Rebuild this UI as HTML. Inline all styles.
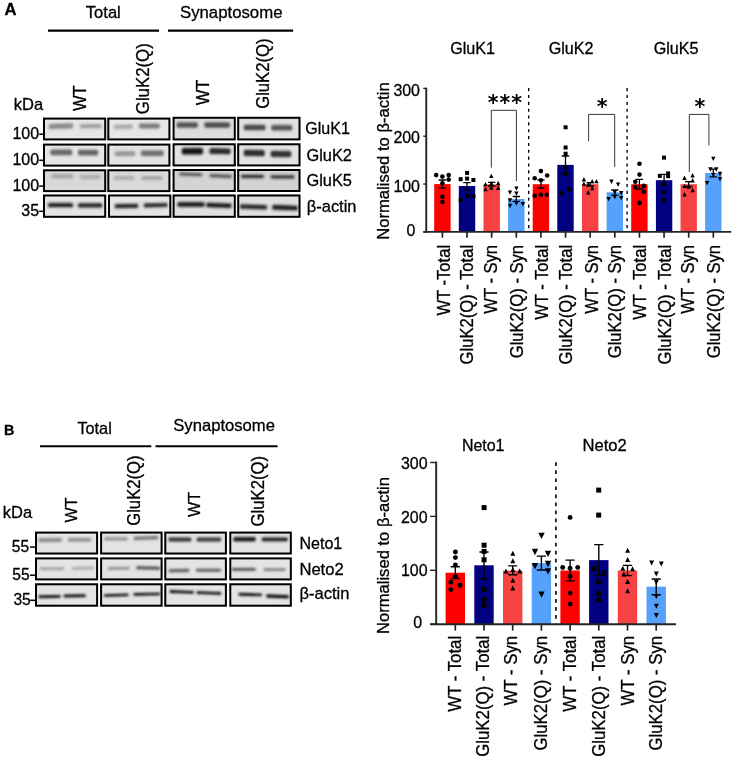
<!DOCTYPE html>
<html lang="en"><head><meta charset="utf-8"><title>Figure</title>
<style>html,body{margin:0;padding:0;background:#fff}svg{display:block}text{font-family:'Liberation Sans', Arial, Helvetica, sans-serif;fill:#000;stroke:#000;stroke-width:0.3px}</style>
</head><body>
<svg width="736" height="757" viewBox="0 0 736 757">
<defs><filter id="bl" x="-20%" y="-50%" width="140%" height="200%"><feGaussianBlur stdDeviation="1.25"/></filter><filter id="bl2" x="-20%" y="-50%" width="140%" height="200%"><feGaussianBlur stdDeviation="0.9"/></filter></defs>
<rect width="736" height="757" fill="#fff"/>
<text transform="translate(4.5 15)" font-size="15.59" font-weight="bold" textLength="12.0" lengthAdjust="spacingAndGlyphs" stroke-width="0.5">A</text>
<text transform="translate(103.3 18.3)" font-size="17.16" text-anchor="middle" textLength="35" lengthAdjust="spacingAndGlyphs">Total</text>
<text transform="translate(231.2 18.3)" font-size="17.16" text-anchor="middle" textLength="102.5" lengthAdjust="spacingAndGlyphs">Synaptosome</text>
<line x1="48" y1="30.7" x2="159" y2="30.7" stroke="#000" stroke-width="2.2"/>
<line x1="168" y1="30.7" x2="293.1" y2="30.7" stroke="#000" stroke-width="2.2"/>
<text transform="translate(85.7 111) rotate(-90) scale(0.9302 1)" font-size="17.74">WT</text>
<text transform="translate(149 114.2) rotate(-90)" font-size="17.74" textLength="71" lengthAdjust="spacingAndGlyphs">GluK2(Q)</text>
<text transform="translate(208.6 105.3) rotate(-90) scale(0.9302 1)" font-size="17.74">WT</text>
<text transform="translate(269.3 108.8) rotate(-90)" font-size="17.74" textLength="70.3" lengthAdjust="spacingAndGlyphs">GluK2(Q)</text>
<text transform="translate(13.7 110.4)" font-size="16.5" textLength="29.4" lengthAdjust="spacingAndGlyphs">kDa</text>
<text transform="translate(39.1 138.7) scale(1.0 1)" font-size="16.0" text-anchor="end">100</text>
<line x1="39.2" y1="134.2" x2="43.5" y2="134.2" stroke="#000" stroke-width="1.5"/>
<text transform="translate(39.1 164.8) scale(1.0 1)" font-size="16.0" text-anchor="end">100</text>
<line x1="39.2" y1="160.3" x2="43.5" y2="160.3" stroke="#000" stroke-width="1.5"/>
<text transform="translate(39.1 190.6) scale(1.0 1)" font-size="16.0" text-anchor="end">100</text>
<line x1="39.2" y1="186.1" x2="43.5" y2="186.1" stroke="#000" stroke-width="1.5"/>
<text transform="translate(39.1 215.8) scale(1.0 1)" font-size="16.0" text-anchor="end">35</text>
<line x1="39.2" y1="211.3" x2="43.5" y2="211.3" stroke="#000" stroke-width="1.5"/>
<clipPath id="c1"><rect x="43" y="117.6" width="63.20" height="22.80"/></clipPath>
<rect x="43" y="117.6" width="63.20" height="22.80" fill="#e6e6e6"/>
<g clip-path="url(#c1)" filter="url(#bl)">
<rect x="47.5" y="122.30" width="26.8" height="7.80" rx="3.90" fill="#8a8a8a" opacity="0.22" transform="rotate(-2 60.9 126.2)"/>
<rect x="49.0" y="123.90" width="23.8" height="4.60" rx="1.60" fill="#8a8a8a" transform="rotate(-2 60.9 126.2)"/>
<rect x="78.5" y="122.70" width="24.3" height="7.00" rx="3.50" fill="#a0a0a0" opacity="0.22" transform="rotate(0 90.7 126.2)"/>
<rect x="80.0" y="124.30" width="21.3" height="3.80" rx="1.60" fill="#a0a0a0" transform="rotate(0 90.7 126.2)"/>
</g>
<rect x="44.0" y="118.6" width="61.20" height="20.80" fill="none" stroke="#000" stroke-width="2.0"/>
<clipPath id="c2"><rect x="107.3" y="117.6" width="63.10" height="22.80"/></clipPath>
<rect x="107.3" y="117.6" width="63.10" height="22.80" fill="#e6e6e6"/>
<g clip-path="url(#c2)" filter="url(#bl)">
<rect x="112.5" y="123.40" width="21.5" height="6.80" rx="3.40" fill="#a6a6a6" opacity="0.22" transform="rotate(-2 123.2 126.8)"/>
<rect x="114.0" y="125.00" width="18.5" height="3.60" rx="1.60" fill="#a6a6a6" transform="rotate(-2 123.2 126.8)"/>
<rect x="137.8" y="122.20" width="23.1" height="7.60" rx="3.80" fill="#7c7c7c" opacity="0.22" transform="rotate(0 149.4 126.0)"/>
<rect x="139.3" y="123.80" width="20.1" height="4.40" rx="1.60" fill="#7c7c7c" transform="rotate(0 149.4 126.0)"/>
</g>
<rect x="108.3" y="118.6" width="61.10" height="20.80" fill="none" stroke="#000" stroke-width="2.0"/>
<clipPath id="c3"><rect x="172.6" y="116.8" width="63.20" height="23.60"/></clipPath>
<rect x="172.6" y="116.8" width="63.20" height="23.60" fill="#dddddd"/>
<g clip-path="url(#c3)" filter="url(#bl)">
<rect x="175.4" y="120.90" width="23.6" height="8.20" rx="4.10" fill="#555" opacity="0.22" transform="rotate(0 187.2 125.0)"/>
<rect x="176.9" y="122.50" width="20.6" height="5.00" rx="1.60" fill="#555" transform="rotate(0 187.2 125.0)"/>
<rect x="203.1" y="120.90" width="28.1" height="8.20" rx="4.10" fill="#505050" opacity="0.22" transform="rotate(0 217.1 125.0)"/>
<rect x="204.6" y="122.50" width="25.1" height="5.00" rx="1.60" fill="#505050" transform="rotate(0 217.1 125.0)"/>
</g>
<rect x="173.6" y="117.8" width="61.20" height="21.60" fill="none" stroke="#000" stroke-width="2.0"/>
<clipPath id="c4"><rect x="237.2" y="116.8" width="63.30" height="23.60"/></clipPath>
<rect x="237.2" y="116.8" width="63.30" height="23.60" fill="#e0e0e0"/>
<g clip-path="url(#c4)" filter="url(#bl)">
<rect x="242.5" y="123.30" width="24.2" height="8.20" rx="4.10" fill="#4e4e4e" opacity="0.22" transform="rotate(0 254.6 127.4)"/>
<rect x="244.0" y="124.90" width="21.2" height="5.00" rx="1.60" fill="#4e4e4e" transform="rotate(0 254.6 127.4)"/>
<rect x="270.0" y="123.70" width="23.5" height="8.20" rx="4.10" fill="#585858" opacity="0.22" transform="rotate(0 281.8 127.8)"/>
<rect x="271.5" y="125.30" width="20.5" height="5.00" rx="1.60" fill="#585858" transform="rotate(0 281.8 127.8)"/>
</g>
<rect x="238.2" y="117.8" width="61.30" height="21.60" fill="none" stroke="#000" stroke-width="2.0"/>
<clipPath id="c5"><rect x="43" y="143.6" width="63.20" height="23.00"/></clipPath>
<rect x="43" y="143.6" width="63.20" height="23.00" fill="#e6e6e6"/>
<g clip-path="url(#c5)" filter="url(#bl)">
<rect x="49.1" y="148.20" width="24.4" height="8.40" rx="4.20" fill="#6a6a6a" opacity="0.22" transform="rotate(0 61.3 152.4)"/>
<rect x="50.6" y="149.80" width="21.4" height="5.20" rx="1.60" fill="#6a6a6a" transform="rotate(0 61.3 152.4)"/>
<rect x="76.8" y="148.40" width="22.7" height="8.40" rx="4.20" fill="#666" opacity="0.22" transform="rotate(0 88.2 152.6)"/>
<rect x="78.3" y="150.00" width="19.7" height="5.20" rx="1.60" fill="#666" transform="rotate(0 88.2 152.6)"/>
</g>
<rect x="44.0" y="144.6" width="61.20" height="21.00" fill="none" stroke="#000" stroke-width="2.0"/>
<clipPath id="c6"><rect x="107.3" y="143.6" width="63.10" height="23.00"/></clipPath>
<rect x="107.3" y="143.6" width="63.10" height="23.00" fill="#e4e4e4"/>
<g clip-path="url(#c6)" filter="url(#bl)">
<rect x="113.5" y="149.80" width="23.0" height="7.60" rx="3.80" fill="#959595" opacity="0.22" transform="rotate(0 125.0 153.6)"/>
<rect x="115.0" y="151.40" width="20.0" height="4.40" rx="1.60" fill="#959595" transform="rotate(0 125.0 153.6)"/>
<rect x="139.7" y="149.10" width="25.2" height="8.20" rx="4.10" fill="#6e6e6e" opacity="0.22" transform="rotate(0 152.3 153.2)"/>
<rect x="141.2" y="150.70" width="22.2" height="5.00" rx="1.60" fill="#6e6e6e" transform="rotate(0 152.3 153.2)"/>
</g>
<rect x="108.3" y="144.6" width="61.10" height="21.00" fill="none" stroke="#000" stroke-width="2.0"/>
<clipPath id="c7"><rect x="172.6" y="143.3" width="63.20" height="23.10"/></clipPath>
<rect x="172.6" y="143.3" width="63.20" height="23.10" fill="#e2e2e2"/>
<g clip-path="url(#c7)" filter="url(#bl)">
<rect x="180.5" y="146.60" width="23.7" height="9.20" rx="4.60" fill="#161616" opacity="0.22" transform="rotate(0 192.3 151.2)"/>
<rect x="182.0" y="148.20" width="20.7" height="6.00" rx="1.60" fill="#161616" transform="rotate(0 192.3 151.2)"/>
<rect x="208.2" y="146.90" width="23.6" height="8.60" rx="4.30" fill="#2c2c2c" opacity="0.22" transform="rotate(1 220.0 151.2)"/>
<rect x="209.7" y="148.50" width="20.6" height="5.40" rx="1.60" fill="#2c2c2c" transform="rotate(1 220.0 151.2)"/>
</g>
<rect x="173.6" y="144.3" width="61.20" height="21.10" fill="none" stroke="#000" stroke-width="2.0"/>
<clipPath id="c8"><rect x="237.2" y="143.3" width="63.30" height="23.10"/></clipPath>
<rect x="237.2" y="143.3" width="63.30" height="23.10" fill="#e2e2e2"/>
<g clip-path="url(#c8)" filter="url(#bl)">
<rect x="242.5" y="148.60" width="23.5" height="8.80" rx="4.40" fill="#2e2e2e" opacity="0.22" transform="rotate(1 254.2 153.0)"/>
<rect x="244.0" y="150.20" width="20.5" height="5.60" rx="1.60" fill="#2e2e2e" transform="rotate(1 254.2 153.0)"/>
<rect x="269.4" y="149.50" width="23.1" height="9.00" rx="4.50" fill="#333" opacity="0.22" transform="rotate(1 280.9 154.0)"/>
<rect x="270.9" y="151.10" width="20.1" height="5.80" rx="1.60" fill="#333" transform="rotate(1 280.9 154.0)"/>
</g>
<rect x="238.2" y="144.3" width="61.30" height="21.10" fill="none" stroke="#000" stroke-width="2.0"/>
<clipPath id="c9"><rect x="43" y="169.3" width="63.20" height="22.80"/></clipPath>
<rect x="43" y="169.3" width="63.20" height="22.80" fill="#d8d8d8"/>
<g clip-path="url(#c9)" filter="url(#bl)">
<rect x="49.9" y="172.90" width="24.4" height="6.60" rx="3.30" fill="#a4a4a4" opacity="0.22" transform="rotate(0 62.1 176.2)"/>
<rect x="51.4" y="174.50" width="21.4" height="3.40" rx="1.60" fill="#a4a4a4" transform="rotate(0 62.1 176.2)"/>
<rect x="78.5" y="173.70" width="23.5" height="6.60" rx="3.30" fill="#adadad" opacity="0.22" transform="rotate(0 90.2 177.0)"/>
<rect x="80.0" y="175.30" width="20.5" height="3.40" rx="1.60" fill="#adadad" transform="rotate(0 90.2 177.0)"/>
</g>
<rect x="44.0" y="170.3" width="61.20" height="20.80" fill="none" stroke="#000" stroke-width="2.0"/>
<clipPath id="c10"><rect x="107.3" y="169.3" width="63.10" height="22.80"/></clipPath>
<rect x="107.3" y="169.3" width="63.10" height="22.80" fill="#dadada"/>
<g clip-path="url(#c10)" filter="url(#bl)">
<rect x="112.5" y="174.80" width="23.0" height="6.40" rx="3.20" fill="#a8a8a8" opacity="0.22" transform="rotate(0 124.0 178.0)"/>
<rect x="114.0" y="176.40" width="20.0" height="3.20" rx="1.60" fill="#a8a8a8" transform="rotate(0 124.0 178.0)"/>
<rect x="140.0" y="174.80" width="23.5" height="6.40" rx="3.20" fill="#a0a0a0" opacity="0.22" transform="rotate(0 151.8 178.0)"/>
<rect x="141.5" y="176.40" width="20.5" height="3.20" rx="1.60" fill="#a0a0a0" transform="rotate(0 151.8 178.0)"/>
</g>
<rect x="108.3" y="170.3" width="61.10" height="20.80" fill="none" stroke="#000" stroke-width="2.0"/>
<clipPath id="c11"><rect x="172.6" y="169.0" width="63.20" height="23.00"/></clipPath>
<rect x="172.6" y="169.0" width="63.20" height="23.00" fill="#d4d4d4"/>
<g clip-path="url(#c11)" filter="url(#bl)">
<rect x="178.1" y="171.50" width="25.2" height="5.80" rx="2.90" fill="#555" opacity="0.22" transform="rotate(2 190.7 174.4)"/>
<rect x="179.6" y="173.10" width="22.2" height="2.60" rx="1.30" fill="#555" transform="rotate(2 190.7 174.4)"/>
<rect x="208.3" y="173.00" width="24.8" height="6.00" rx="3.00" fill="#555" opacity="0.22" transform="rotate(2 220.7 176.0)"/>
<rect x="209.8" y="174.60" width="21.8" height="2.80" rx="1.40" fill="#555" transform="rotate(2 220.7 176.0)"/>
</g>
<rect x="173.6" y="170.0" width="61.20" height="21.00" fill="none" stroke="#000" stroke-width="2.0"/>
<clipPath id="c12"><rect x="237.2" y="169.0" width="63.30" height="23.00"/></clipPath>
<rect x="237.2" y="169.0" width="63.30" height="23.00" fill="#d4d4d4"/>
<g clip-path="url(#c12)" filter="url(#bl)">
<rect x="239.9" y="173.40" width="25.2" height="6.00" rx="3.00" fill="#2a2a2a" opacity="0.22" transform="rotate(0 252.5 176.4)"/>
<rect x="241.4" y="175.00" width="22.2" height="2.80" rx="1.40" fill="#2a2a2a" transform="rotate(0 252.5 176.4)"/>
<rect x="269.4" y="173.80" width="26.3" height="6.00" rx="3.00" fill="#333" opacity="0.22" transform="rotate(0 282.5 176.8)"/>
<rect x="270.9" y="175.40" width="23.3" height="2.80" rx="1.40" fill="#333" transform="rotate(0 282.5 176.8)"/>
</g>
<rect x="238.2" y="170.0" width="61.30" height="21.00" fill="none" stroke="#000" stroke-width="2.0"/>
<clipPath id="c13"><rect x="43" y="194.5" width="63.20" height="23.30"/></clipPath>
<rect x="43" y="194.5" width="63.20" height="23.30" fill="#e4e4e4"/>
<g clip-path="url(#c13)" filter="url(#bl)">
<rect x="46.7" y="201.60" width="27.6" height="7.00" rx="3.50" fill="#222" opacity="0.22" transform="rotate(0 60.5 205.1)"/>
<rect x="48.2" y="203.20" width="24.6" height="3.80" rx="1.60" fill="#222" transform="rotate(0 60.5 205.1)"/>
<rect x="76.8" y="201.90" width="26.7" height="7.00" rx="3.50" fill="#262626" opacity="0.22" transform="rotate(0 90.2 205.4)"/>
<rect x="78.3" y="203.50" width="23.7" height="3.80" rx="1.60" fill="#262626" transform="rotate(0 90.2 205.4)"/>
</g>
<rect x="44.0" y="195.5" width="61.20" height="21.30" fill="none" stroke="#000" stroke-width="2.0"/>
<clipPath id="c14"><rect x="108" y="194.5" width="63.30" height="23.30"/></clipPath>
<rect x="108" y="194.5" width="63.30" height="23.30" fill="#e4e4e4"/>
<g clip-path="url(#c14)" filter="url(#bl)">
<rect x="113.5" y="202.50" width="26.0" height="7.00" rx="3.50" fill="#2a2a2a" opacity="0.22" transform="rotate(-1 126.5 206.0)"/>
<rect x="115.0" y="204.10" width="23.0" height="3.80" rx="1.60" fill="#2a2a2a" transform="rotate(-1 126.5 206.0)"/>
<rect x="142.5" y="201.80" width="26.4" height="6.80" rx="3.40" fill="#2e2e2e" opacity="0.22" transform="rotate(-1 155.7 205.2)"/>
<rect x="144.0" y="203.40" width="23.4" height="3.60" rx="1.60" fill="#2e2e2e" transform="rotate(-1 155.7 205.2)"/>
</g>
<rect x="109.0" y="195.5" width="61.30" height="21.30" fill="none" stroke="#000" stroke-width="2.0"/>
<clipPath id="c15"><rect x="172.6" y="194.5" width="63.20" height="23.30"/></clipPath>
<rect x="172.6" y="194.5" width="63.20" height="23.30" fill="#e0e0e0"/>
<g clip-path="url(#c15)" filter="url(#bl)">
<rect x="176.2" y="200.80" width="29.6" height="7.20" rx="3.60" fill="#141414" opacity="0.22" transform="rotate(0 191.0 204.4)"/>
<rect x="177.7" y="202.40" width="26.6" height="4.00" rx="1.60" fill="#141414" transform="rotate(0 191.0 204.4)"/>
<rect x="205.0" y="201.70" width="27.7" height="7.20" rx="3.60" fill="#1c1c1c" opacity="0.22" transform="rotate(2 218.8 205.3)"/>
<rect x="206.5" y="203.30" width="24.7" height="4.00" rx="1.60" fill="#1c1c1c" transform="rotate(2 218.8 205.3)"/>
</g>
<rect x="173.6" y="195.5" width="61.20" height="21.30" fill="none" stroke="#000" stroke-width="2.0"/>
<clipPath id="c16"><rect x="237.2" y="194.5" width="63.30" height="23.30"/></clipPath>
<rect x="237.2" y="194.5" width="63.30" height="23.30" fill="#e0e0e0"/>
<g clip-path="url(#c16)" filter="url(#bl)">
<rect x="238.8" y="203.30" width="29.5" height="7.20" rx="3.60" fill="#2a2a2a" opacity="0.22" transform="rotate(2 253.6 206.9)"/>
<rect x="240.3" y="204.90" width="26.5" height="4.00" rx="1.60" fill="#2a2a2a" transform="rotate(2 253.6 206.9)"/>
<rect x="271.0" y="203.90" width="27.9" height="7.60" rx="3.80" fill="#222" opacity="0.22" transform="rotate(2 284.9 207.7)"/>
<rect x="272.5" y="205.50" width="24.9" height="4.40" rx="1.60" fill="#222" transform="rotate(2 284.9 207.7)"/>
</g>
<rect x="238.2" y="195.5" width="61.30" height="21.30" fill="none" stroke="#000" stroke-width="2.0"/>
<text transform="translate(305.3 134.3)" font-size="17.2" textLength="44.6" lengthAdjust="spacingAndGlyphs">GluK1</text>
<text transform="translate(306.4 161.4)" font-size="17.2" textLength="45.6" lengthAdjust="spacingAndGlyphs">GluK2</text>
<text transform="translate(306.4 186.2)" font-size="17.2" textLength="45.6" lengthAdjust="spacingAndGlyphs">GluK5</text>
<text transform="translate(306.8 211.9)" font-size="17.2" textLength="49.7" lengthAdjust="spacingAndGlyphs">β-actin</text>
<text transform="translate(472.6 53.8) scale(1.0 1)" font-size="16.15" text-anchor="middle">GluK1</text>
<text transform="translate(571.1 53.8) scale(1.0 1)" font-size="16.15" text-anchor="middle">GluK2</text>
<text transform="translate(676.1 53.8) scale(1.0 1)" font-size="16.15" text-anchor="middle">GluK5</text>
<rect x="434.2" y="184.1" width="16.4" height="47.3" fill="#ff0000"/>
<rect x="458.8" y="186.0" width="16.4" height="45.4" fill="#000080"/>
<rect x="483.5" y="184.4" width="16.4" height="47.0" fill="#f84143"/>
<rect x="508.1" y="199.0" width="16.4" height="32.4" fill="#56a1fb"/>
<rect x="532.7" y="184.2" width="16.4" height="47.2" fill="#ff0000"/>
<rect x="557.3" y="164.9" width="16.4" height="66.5" fill="#000080"/>
<rect x="582.0" y="184.2" width="16.4" height="47.2" fill="#f84143"/>
<rect x="606.6" y="192.3" width="16.4" height="39.1" fill="#56a1fb"/>
<rect x="631.2" y="184.2" width="16.4" height="47.2" fill="#ff0000"/>
<rect x="655.9" y="180.2" width="16.4" height="51.2" fill="#000080"/>
<rect x="680.5" y="184.2" width="16.4" height="47.2" fill="#f84143"/>
<rect x="705.1" y="173.0" width="16.4" height="58.4" fill="#56a1fb"/>
<path d="M442.4 180V188.1M438.7 180H446.1M438.7 188.1H446.1" stroke="#000" stroke-width="1.3" fill="none"/>
<g fill="#000">
<circle cx="436.2" cy="175.1" r="2.30"/>
<circle cx="442.4" cy="176.6" r="2.30"/>
<circle cx="448.7" cy="175.1" r="2.30"/>
<circle cx="448.7" cy="179.6" r="2.30"/>
<circle cx="442.4" cy="183.3" r="2.30"/>
<circle cx="442.4" cy="196.8" r="2.30"/>
<circle cx="442.4" cy="202.0" r="2.30"/>
</g>
<path d="M467.0 182.6V190.1M463.3 182.6H470.7M463.3 190.1H470.7" stroke="#000" stroke-width="1.3" fill="none"/>
<g fill="#000">
<rect x="465.1" y="170.9" width="4.0" height="4.0"/>
<rect x="458.7" y="177.2" width="4.0" height="4.0"/>
<rect x="465.1" y="176.6" width="4.0" height="4.0"/>
<rect x="471.4" y="178.0" width="4.0" height="4.0"/>
<rect x="465.1" y="193.6" width="4.0" height="4.0"/>
<rect x="471.4" y="194.5" width="4.0" height="4.0"/>
<rect x="458.7" y="198.1" width="4.0" height="4.0"/>
</g>
<path d="M491.7 182.3V186M488.0 182.3H495.4M488.0 186H495.4" stroke="#000" stroke-width="1.3" fill="none"/>
<g fill="#000">
<path d="M489.1 178.1L493.5 178.1L491.3 173.7Z"/>
<path d="M483.3 186.3L487.7 186.3L485.5 181.9Z"/>
<path d="M489.1 185.5L493.5 185.5L491.3 181.1Z"/>
<path d="M496.0 185.2L500.4 185.2L498.2 180.8Z"/>
<path d="M483.3 191.2L487.7 191.2L485.5 186.8Z"/>
<path d="M489.1 189.7L493.5 189.7L491.3 185.3Z"/>
<path d="M496.0 190.0L500.4 190.0L498.2 185.6Z"/>
</g>
<path d="M516.3 196.5V201.3M512.6 196.5H520.0M512.6 201.3H520.0" stroke="#000" stroke-width="1.3" fill="none"/>
<g fill="#000">
<path d="M514.2 186.4L518.6 186.4L516.4 190.8Z"/>
<path d="M507.8 190.4L512.2 190.4L510.0 194.8Z"/>
<path d="M514.2 191.6L518.6 191.6L516.4 196.0Z"/>
<path d="M507.8 198.3L512.2 198.3L510.0 202.7Z"/>
<path d="M514.2 201.3L518.6 201.3L516.4 205.7Z"/>
<path d="M520.7 202.1L525.1 202.1L522.9 206.5Z"/>
<path d="M507.8 203.8L512.2 203.8L510.0 208.2Z"/>
</g>
<path d="M540.9 179.8V188.1M537.2 179.8H544.6M537.2 188.1H544.6" stroke="#000" stroke-width="1.3" fill="none"/>
<g fill="#000">
<circle cx="540.9" cy="171.1" r="2.30"/>
<circle cx="534.7" cy="178.2" r="2.30"/>
<circle cx="547.2" cy="175.5" r="2.30"/>
<circle cx="540.9" cy="180.3" r="2.30"/>
<circle cx="534.7" cy="195.8" r="2.30"/>
<circle cx="540.9" cy="194.8" r="2.30"/>
<circle cx="546.8" cy="194.8" r="2.30"/>
</g>
<path d="M565.5 156V173.4M561.8 156H569.2M561.8 173.4H569.2" stroke="#000" stroke-width="1.3" fill="none"/>
<g fill="#000">
<rect x="563.6" y="125.3" width="4.0" height="4.0"/>
<rect x="563.6" y="145.5" width="4.0" height="4.0"/>
<rect x="563.6" y="151.7" width="4.0" height="4.0"/>
<rect x="563.6" y="165.2" width="4.0" height="4.0"/>
<rect x="563.6" y="172.0" width="4.0" height="4.0"/>
<rect x="567.4" y="187.4" width="4.0" height="4.0"/>
<rect x="559.7" y="191.3" width="4.0" height="4.0"/>
</g>
<path d="M590.2 182.7V186M586.5 182.7H593.9M586.5 186H593.9" stroke="#000" stroke-width="1.3" fill="none"/>
<g fill="#000">
<path d="M581.7 181.4L586.1 181.4L583.9 177.0Z"/>
<path d="M590.0 183.3L594.4 183.3L592.2 178.9Z"/>
<path d="M594.3 183.3L598.7 183.3L596.5 178.9Z"/>
<path d="M581.7 185.8L586.1 185.8L583.9 181.4Z"/>
<path d="M586.0 186.4L590.4 186.4L588.2 182.0Z"/>
<path d="M590.0 190.3L594.4 190.3L592.2 185.9Z"/>
<path d="M586.0 194.5L590.4 194.5L588.2 190.1Z"/>
</g>
<path d="M614.8 190V195.2M611.1 190H618.5M611.1 195.2H618.5" stroke="#000" stroke-width="1.3" fill="none"/>
<g fill="#000">
<path d="M609.3 179.5L613.7 179.5L611.5 183.9Z"/>
<path d="M615.9 182.4L620.3 182.4L618.1 186.8Z"/>
<path d="M619.0 191.1L623.4 191.1L621.2 195.5Z"/>
<path d="M606.4 196.9L610.8 196.9L608.6 201.3Z"/>
<path d="M612.6 194.9L617.0 194.9L614.8 199.3Z"/>
<path d="M619.0 195.9L623.4 195.9L621.2 200.3Z"/>
<path d="M612.6 190.3L617.0 190.3L614.8 194.7Z"/>
</g>
<path d="M639.4 179.4V189M635.7 179.4H643.1M635.7 189H643.1" stroke="#000" stroke-width="1.3" fill="none"/>
<g fill="#000">
<circle cx="639.5" cy="163.7" r="2.30"/>
<circle cx="639.5" cy="174.6" r="2.30"/>
<circle cx="635.3" cy="181.7" r="2.30"/>
<circle cx="635.3" cy="187.1" r="2.30"/>
<circle cx="643.8" cy="185.9" r="2.30"/>
<circle cx="643.8" cy="191.7" r="2.30"/>
<circle cx="639.5" cy="202.9" r="2.30"/>
</g>
<path d="M664.1 174.4V185.6M660.4 174.4H667.8M660.4 185.6H667.8" stroke="#000" stroke-width="1.3" fill="none"/>
<g fill="#000">
<rect x="662.0" y="155.6" width="4.0" height="4.0"/>
<rect x="666.1" y="171.4" width="4.0" height="4.0"/>
<rect x="657.8" y="173.9" width="4.0" height="4.0"/>
<rect x="666.1" y="174.2" width="4.0" height="4.0"/>
<rect x="662.0" y="182.0" width="4.0" height="4.0"/>
<rect x="662.0" y="190.3" width="4.0" height="4.0"/>
<rect x="662.0" y="198.4" width="4.0" height="4.0"/>
</g>
<path d="M688.7 181.7V186.5M685.0 181.7H692.4M685.0 186.5H692.4" stroke="#000" stroke-width="1.3" fill="none"/>
<g fill="#000">
<path d="M690.4 177.5L694.8 177.5L692.6 173.1Z"/>
<path d="M682.3 180.0L686.7 180.0L684.5 175.6Z"/>
<path d="M690.4 182.5L694.8 182.5L692.6 178.1Z"/>
<path d="M682.3 188.1L686.7 188.1L684.5 183.7Z"/>
<path d="M690.4 192.2L694.8 192.2L692.6 187.8Z"/>
<path d="M682.3 196.4L686.7 196.4L684.5 192.0Z"/>
<path d="M686.5 188.7L690.9 188.7L688.7 184.3Z"/>
</g>
<path d="M713.3 169.2V176.9M709.6 169.2H717.0M709.6 176.9H717.0" stroke="#000" stroke-width="1.3" fill="none"/>
<g fill="#000">
<path d="M711.1 156.7L715.5 156.7L713.3 161.1Z"/>
<path d="M708.2 167.3L712.6 167.3L710.4 171.7Z"/>
<path d="M714.1 167.3L718.5 167.3L716.3 171.7Z"/>
<path d="M717.8 171.8L722.2 171.8L720.0 176.2Z"/>
<path d="M711.1 172.8L715.5 172.8L713.3 177.2Z"/>
<path d="M717.8 177.0L722.2 177.0L720.0 181.4Z"/>
<path d="M704.9 180.9L709.3 180.9L707.1 185.3Z"/>
</g>
<line x1="426.25" y1="87.7" x2="426.25" y2="232.8" stroke="#242424" stroke-width="1.9"/>
<line x1="423.3" y1="231.9" x2="731.2" y2="231.9" stroke="#242424" stroke-width="1.9"/>
<line x1="423.3" y1="231.9" x2="426.25" y2="231.9" stroke="#242424" stroke-width="1.4"/>
<text transform="translate(415.4 236.2) scale(0.9709 1)" font-size="16.43" text-anchor="end">0</text>
<line x1="423.3" y1="184.07" x2="426.25" y2="184.07" stroke="#242424" stroke-width="1.4"/>
<text transform="translate(420 192.3) scale(0.9709 1)" font-size="16.43" text-anchor="end">100</text>
<line x1="423.3" y1="136.24" x2="426.25" y2="136.24" stroke="#242424" stroke-width="1.4"/>
<text transform="translate(420 143.1) scale(0.9709 1)" font-size="16.43" text-anchor="end">200</text>
<line x1="423.3" y1="88.41" x2="426.25" y2="88.41" stroke="#242424" stroke-width="1.4"/>
<text transform="translate(420 95.8) scale(0.9709 1)" font-size="16.43" text-anchor="end">300</text>
<line x1="442.4" y1="231.9" x2="442.4" y2="237.7" stroke="#242424" stroke-width="1.7"/>
<line x1="467.03" y1="231.9" x2="467.03" y2="237.7" stroke="#242424" stroke-width="1.7"/>
<line x1="491.65999999999997" y1="231.9" x2="491.65999999999997" y2="237.7" stroke="#242424" stroke-width="1.7"/>
<line x1="516.29" y1="231.9" x2="516.29" y2="237.7" stroke="#242424" stroke-width="1.7"/>
<line x1="540.92" y1="231.9" x2="540.92" y2="237.7" stroke="#242424" stroke-width="1.7"/>
<line x1="565.55" y1="231.9" x2="565.55" y2="237.7" stroke="#242424" stroke-width="1.7"/>
<line x1="590.18" y1="231.9" x2="590.18" y2="237.7" stroke="#242424" stroke-width="1.7"/>
<line x1="614.81" y1="231.9" x2="614.81" y2="237.7" stroke="#242424" stroke-width="1.7"/>
<line x1="639.4399999999999" y1="231.9" x2="639.4399999999999" y2="237.7" stroke="#242424" stroke-width="1.7"/>
<line x1="664.0699999999999" y1="231.9" x2="664.0699999999999" y2="237.7" stroke="#242424" stroke-width="1.7"/>
<line x1="688.6999999999999" y1="231.9" x2="688.6999999999999" y2="237.7" stroke="#242424" stroke-width="1.7"/>
<line x1="713.3299999999999" y1="231.9" x2="713.3299999999999" y2="237.7" stroke="#242424" stroke-width="1.7"/>
<line x1="528.7" y1="88.1" x2="528.7" y2="231" stroke="#000" stroke-width="1.35" stroke-dasharray="3.1 3.75"/>
<line x1="627.1" y1="88.1" x2="627.1" y2="231" stroke="#000" stroke-width="1.35" stroke-dasharray="3.1 3.75"/>
<path d="M491.3 167.6V110.3H516.4V181.2" fill="none" stroke="#222" stroke-width="0.9"/>
<path d="M588.6 141.2V114.4H614.7V166.9" fill="none" stroke="#222" stroke-width="0.9"/>
<path d="M689.3 172V114.4H708.9V145.4" fill="none" stroke="#222" stroke-width="0.9"/>
<text x="505.4" y="109.8" text-anchor="middle" font-size="20.6" font-weight="bold" letter-spacing="1.0" stroke="none" style="stroke:none;font-family:'DejaVu Sans','Liberation Sans',sans-serif">***</text>
<text x="602.7" y="114.1" text-anchor="middle" font-size="20.6" font-weight="bold" letter-spacing="1.0" stroke="none" style="stroke:none;font-family:'DejaVu Sans','Liberation Sans',sans-serif">*</text>
<text x="700.3" y="114.1" text-anchor="middle" font-size="20.6" font-weight="bold" letter-spacing="1.0" stroke="none" style="stroke:none;font-family:'DejaVu Sans','Liberation Sans',sans-serif">*</text>
<text transform="translate(389.0 239.8) rotate(-90)" font-size="16.83" textLength="157.5" lengthAdjust="spacingAndGlyphs">Normalised to β-actin</text>
<text transform="translate(450.1 244.9) rotate(-90) scale(0.9302 1)" font-size="17.85" text-anchor="end">WT -Total</text>
<text transform="translate(472.73 244.9) rotate(-90) scale(0.9302 1)" font-size="17.85" text-anchor="end">GluK2(Q) - Total</text>
<text transform="translate(496.86 244.9) rotate(-90) scale(0.9302 1)" font-size="17.85" text-anchor="end">WT - Syn</text>
<text transform="translate(523.49 244.9) rotate(-90) scale(0.9302 1)" font-size="17.85" text-anchor="end">GluK2(Q) - Syn</text>
<text transform="translate(547.92 244.9) rotate(-90) scale(0.9302 1)" font-size="17.85" text-anchor="end">WT - Total</text>
<text transform="translate(572.05 244.9) rotate(-90) scale(0.9302 1)" font-size="17.85" text-anchor="end">GluK2(Q) - Total</text>
<text transform="translate(598.18 244.9) rotate(-90) scale(0.9302 1)" font-size="17.85" text-anchor="end">WT - Syn</text>
<text transform="translate(621.21 244.9) rotate(-90) scale(0.9302 1)" font-size="17.85" text-anchor="end">GluK2(Q) - Syn</text>
<text transform="translate(646.44 244.9) rotate(-90) scale(0.9302 1)" font-size="17.85" text-anchor="end">WT - Total</text>
<text transform="translate(670.87 244.9) rotate(-90) scale(0.9302 1)" font-size="17.85" text-anchor="end">GluK2(Q) - Total</text>
<text transform="translate(694.0 244.9) rotate(-90) scale(0.9302 1)" font-size="17.85" text-anchor="end">WT - Syn</text>
<text transform="translate(719.63 244.9) rotate(-90) scale(0.9302 1)" font-size="17.85" text-anchor="end">GluK2(Q) - Syn</text>
<text transform="translate(4.0 435)" font-size="15.16" font-weight="bold" textLength="10.4" lengthAdjust="spacingAndGlyphs" stroke-width="0.5">B</text>
<text transform="translate(94.6 433.7)" font-size="17.01" text-anchor="middle" textLength="34.3" lengthAdjust="spacingAndGlyphs">Total</text>
<text transform="translate(224.1 431.3)" font-size="16.89" text-anchor="middle" textLength="101.7" lengthAdjust="spacingAndGlyphs">Synaptosome</text>
<line x1="40" y1="446.3" x2="151.3" y2="446.3" stroke="#000" stroke-width="2"/>
<line x1="155.5" y1="446.3" x2="277.5" y2="446.3" stroke="#000" stroke-width="2"/>
<text transform="translate(77.3 522.5) rotate(-90)" font-size="17.41" textLength="25" lengthAdjust="spacingAndGlyphs">WT</text>
<text transform="translate(140.3 525.8) rotate(-90)" font-size="17.63" textLength="70.4" lengthAdjust="spacingAndGlyphs">GluK2(Q)</text>
<text transform="translate(200.3 517) rotate(-90)" font-size="17.41" textLength="25" lengthAdjust="spacingAndGlyphs">WT</text>
<text transform="translate(263.5 526.5) rotate(-90)" font-size="17.63" textLength="70.6" lengthAdjust="spacingAndGlyphs">GluK2(Q)</text>
<text transform="translate(2.8 518)" font-size="17.2" textLength="29.4" lengthAdjust="spacingAndGlyphs">kDa</text>
<text transform="translate(29.099999999999998 551.7) scale(0.9302 1)" font-size="16.77" text-anchor="end">55</text>
<line x1="30" y1="547.1" x2="35.2" y2="547.1" stroke="#000" stroke-width="1.5"/>
<text transform="translate(29.7 579.8) scale(0.9302 1)" font-size="16.77" text-anchor="end">55</text>
<line x1="30" y1="575.1999999999999" x2="35.2" y2="575.1999999999999" stroke="#000" stroke-width="1.5"/>
<text transform="translate(30.8 604.9) scale(0.9302 1)" font-size="16.77" text-anchor="end">35</text>
<line x1="30" y1="600.3" x2="35.2" y2="600.3" stroke="#000" stroke-width="1.5"/>
<clipPath id="c17"><rect x="35" y="531.6" width="63.10" height="22.90"/></clipPath>
<rect x="35" y="531.6" width="63.10" height="22.90" fill="#e4e4e4"/>
<g clip-path="url(#c17)" filter="url(#bl2)">
<rect x="37.2" y="536.60" width="26.1" height="6.80" rx="3.40" fill="#8c8c8c" opacity="0.12" transform="rotate(-1 50.2 540.0)"/>
<rect x="38.7" y="538.20" width="23.1" height="3.60" rx="1.60" fill="#8c8c8c" transform="rotate(-1 50.2 540.0)"/>
<rect x="66.5" y="536.40" width="26.0" height="6.80" rx="3.40" fill="#929292" opacity="0.12" transform="rotate(0 79.5 539.8)"/>
<rect x="68.0" y="538.00" width="23.0" height="3.60" rx="1.60" fill="#929292" transform="rotate(0 79.5 539.8)"/>
</g>
<rect x="36.0" y="532.6" width="61.10" height="20.90" fill="none" stroke="#000" stroke-width="2.0"/>
<clipPath id="c18"><rect x="100.1" y="531.6" width="62.50" height="22.90"/></clipPath>
<rect x="100.1" y="531.6" width="62.50" height="22.90" fill="#e4e4e4"/>
<g clip-path="url(#c18)" filter="url(#bl2)">
<rect x="102.7" y="535.70" width="26.4" height="6.40" rx="3.20" fill="#979797" opacity="0.12" transform="rotate(0 115.9 538.9)"/>
<rect x="104.2" y="537.30" width="23.4" height="3.20" rx="1.60" fill="#979797" transform="rotate(0 115.9 538.9)"/>
<rect x="132.2" y="534.70" width="27.5" height="6.60" rx="3.30" fill="#7a7a7a" opacity="0.12" transform="rotate(-2 145.9 538.0)"/>
<rect x="133.7" y="536.30" width="24.5" height="3.40" rx="1.60" fill="#7a7a7a" transform="rotate(-2 145.9 538.0)"/>
</g>
<rect x="101.1" y="532.6" width="60.50" height="20.90" fill="none" stroke="#000" stroke-width="2.0"/>
<clipPath id="c19"><rect x="164.3" y="531.6" width="62.60" height="22.90"/></clipPath>
<rect x="164.3" y="531.6" width="62.60" height="22.90" fill="#e4e4e4"/>
<g clip-path="url(#c19)" filter="url(#bl2)">
<rect x="166.9" y="536.00" width="25.9" height="7.00" rx="3.50" fill="#3a3a3a" opacity="0.12" transform="rotate(0 179.9 539.5)"/>
<rect x="168.4" y="537.60" width="22.9" height="3.80" rx="1.60" fill="#3a3a3a" transform="rotate(0 179.9 539.5)"/>
<rect x="195.2" y="536.00" width="27.4" height="7.00" rx="3.50" fill="#404040" opacity="0.12" transform="rotate(0 208.9 539.5)"/>
<rect x="196.7" y="537.60" width="24.4" height="3.80" rx="1.60" fill="#404040" transform="rotate(0 208.9 539.5)"/>
</g>
<rect x="165.3" y="532.6" width="60.60" height="20.90" fill="none" stroke="#000" stroke-width="2.0"/>
<clipPath id="c20"><rect x="229.3" y="531.6" width="62.50" height="22.90"/></clipPath>
<rect x="229.3" y="531.6" width="62.50" height="22.90" fill="#e4e4e4"/>
<g clip-path="url(#c20)" filter="url(#bl2)">
<rect x="231.9" y="535.60" width="25.2" height="7.20" rx="3.60" fill="#161616" opacity="0.12" transform="rotate(0 244.5 539.2)"/>
<rect x="233.4" y="537.20" width="22.2" height="4.00" rx="1.60" fill="#161616" transform="rotate(0 244.5 539.2)"/>
<rect x="260.2" y="535.80" width="29.1" height="7.00" rx="3.50" fill="#2c2c2c" opacity="0.12" transform="rotate(0 274.8 539.3)"/>
<rect x="261.7" y="537.40" width="26.1" height="3.80" rx="1.60" fill="#2c2c2c" transform="rotate(0 274.8 539.3)"/>
</g>
<rect x="230.3" y="532.6" width="60.50" height="20.90" fill="none" stroke="#000" stroke-width="2.0"/>
<clipPath id="c21"><rect x="35" y="557.4" width="63.10" height="23.00"/></clipPath>
<rect x="35" y="557.4" width="63.10" height="23.00" fill="#e4e4e4"/>
<g clip-path="url(#c21)" filter="url(#bl2)">
<rect x="38.5" y="566.00" width="26.9" height="5.60" rx="2.80" fill="#a2a2a2" opacity="0.12" transform="rotate(0 52.0 568.8)"/>
<rect x="40.0" y="567.60" width="23.9" height="2.40" rx="1.20" fill="#a2a2a2" transform="rotate(0 52.0 568.8)"/>
<rect x="70.5" y="565.40" width="24.8" height="5.60" rx="2.80" fill="#a8a8a8" opacity="0.12" transform="rotate(-2 82.9 568.2)"/>
<rect x="72.0" y="567.00" width="21.8" height="2.40" rx="1.20" fill="#a8a8a8" transform="rotate(-2 82.9 568.2)"/>
</g>
<rect x="36.0" y="558.4" width="61.10" height="21.00" fill="none" stroke="#000" stroke-width="2.0"/>
<clipPath id="c22"><rect x="100.1" y="557.4" width="62.50" height="23.00"/></clipPath>
<rect x="100.1" y="557.4" width="62.50" height="23.00" fill="#e4e4e4"/>
<g clip-path="url(#c22)" filter="url(#bl2)">
<rect x="106.4" y="565.50" width="24.7" height="5.60" rx="2.80" fill="#8e8e8e" opacity="0.12" transform="rotate(-1 118.8 568.3)"/>
<rect x="107.9" y="567.10" width="21.7" height="2.40" rx="1.20" fill="#8e8e8e" transform="rotate(-1 118.8 568.3)"/>
<rect x="134.9" y="564.90" width="26.8" height="6.20" rx="3.10" fill="#585858" opacity="0.12" transform="rotate(1 148.3 568.0)"/>
<rect x="136.4" y="566.50" width="23.8" height="3.00" rx="1.50" fill="#585858" transform="rotate(1 148.3 568.0)"/>
</g>
<rect x="101.1" y="558.4" width="60.50" height="21.00" fill="none" stroke="#000" stroke-width="2.0"/>
<clipPath id="c23"><rect x="164.3" y="557.4" width="62.60" height="23.00"/></clipPath>
<rect x="164.3" y="557.4" width="62.60" height="23.00" fill="#e4e4e4"/>
<g clip-path="url(#c23)" filter="url(#bl2)">
<rect x="167.3" y="567.40" width="23.4" height="6.40" rx="3.20" fill="#666" opacity="0.12" transform="rotate(-1 179.0 570.6)"/>
<rect x="168.8" y="569.00" width="20.4" height="3.20" rx="1.60" fill="#666" transform="rotate(-1 179.0 570.6)"/>
<rect x="194.5" y="567.10" width="27.9" height="6.20" rx="3.10" fill="#6a6a6a" opacity="0.12" transform="rotate(0 208.4 570.2)"/>
<rect x="196.0" y="568.70" width="24.9" height="3.00" rx="1.50" fill="#6a6a6a" transform="rotate(0 208.4 570.2)"/>
</g>
<rect x="165.3" y="558.4" width="60.60" height="21.00" fill="none" stroke="#000" stroke-width="2.0"/>
<clipPath id="c24"><rect x="229.3" y="557.4" width="62.50" height="23.00"/></clipPath>
<rect x="229.3" y="557.4" width="62.50" height="23.00" fill="#e4e4e4"/>
<g clip-path="url(#c24)" filter="url(#bl2)">
<rect x="230.3" y="566.50" width="26.8" height="5.80" rx="2.90" fill="#5c5c5c" opacity="0.12" transform="rotate(0 243.7 569.4)"/>
<rect x="231.8" y="568.10" width="23.8" height="2.60" rx="1.30" fill="#5c5c5c" transform="rotate(0 243.7 569.4)"/>
<rect x="262.2" y="566.80" width="24.8" height="5.60" rx="2.80" fill="#7c7c7c" opacity="0.12" transform="rotate(0 274.6 569.6)"/>
<rect x="263.7" y="568.40" width="21.8" height="2.40" rx="1.20" fill="#7c7c7c" transform="rotate(0 274.6 569.6)"/>
</g>
<rect x="230.3" y="558.4" width="60.50" height="21.00" fill="none" stroke="#000" stroke-width="2.0"/>
<clipPath id="c25"><rect x="35" y="583.3" width="63.10" height="23.40"/></clipPath>
<rect x="35" y="583.3" width="63.10" height="23.40" fill="#e4e4e4"/>
<g clip-path="url(#c25)" filter="url(#bl2)">
<rect x="37.2" y="593.85" width="24.8" height="5.50" rx="2.75" fill="#080808" opacity="0.12" transform="rotate(-1 49.6 596.6)"/>
<rect x="38.7" y="595.45" width="21.8" height="2.30" rx="1.15" fill="#080808" transform="rotate(-1 49.6 596.6)"/>
<rect x="62.4" y="592.95" width="24.7" height="5.70" rx="2.85" fill="#080808" opacity="0.12" transform="rotate(-1 74.8 595.8)"/>
<rect x="63.9" y="594.55" width="21.7" height="2.50" rx="1.25" fill="#080808" transform="rotate(-1 74.8 595.8)"/>
</g>
<rect x="36.0" y="584.3" width="61.10" height="21.40" fill="none" stroke="#000" stroke-width="2.0"/>
<clipPath id="c26"><rect x="100.1" y="583.3" width="62.50" height="23.40"/></clipPath>
<rect x="100.1" y="583.3" width="62.50" height="23.40" fill="#e4e4e4"/>
<g clip-path="url(#c26)" filter="url(#bl2)">
<rect x="102.7" y="592.50" width="27.1" height="5.40" rx="2.70" fill="#080808" opacity="0.12" transform="rotate(-1.5 116.2 595.2)"/>
<rect x="104.2" y="594.10" width="24.1" height="2.20" rx="1.10" fill="#080808" transform="rotate(-1.5 116.2 595.2)"/>
<rect x="132.2" y="591.50" width="29.5" height="5.40" rx="2.70" fill="#080808" opacity="0.12" transform="rotate(-1 146.9 594.2)"/>
<rect x="133.7" y="593.10" width="26.5" height="2.20" rx="1.10" fill="#080808" transform="rotate(-1 146.9 594.2)"/>
</g>
<rect x="101.1" y="584.3" width="60.50" height="21.40" fill="none" stroke="#000" stroke-width="2.0"/>
<clipPath id="c27"><rect x="164.3" y="583.3" width="62.60" height="23.40"/></clipPath>
<rect x="164.3" y="583.3" width="62.60" height="23.40" fill="#e4e4e4"/>
<g clip-path="url(#c27)" filter="url(#bl2)">
<rect x="168.3" y="589.15" width="26.9" height="5.50" rx="2.75" fill="#080808" opacity="0.12" transform="rotate(2 181.8 591.9)"/>
<rect x="169.8" y="590.75" width="23.9" height="2.30" rx="1.15" fill="#080808" transform="rotate(2 181.8 591.9)"/>
<rect x="195.2" y="590.25" width="27.4" height="5.50" rx="2.75" fill="#080808" opacity="0.12" transform="rotate(2 208.9 593.0)"/>
<rect x="196.7" y="591.85" width="24.4" height="2.30" rx="1.15" fill="#080808" transform="rotate(2 208.9 593.0)"/>
</g>
<rect x="165.3" y="584.3" width="60.60" height="21.40" fill="none" stroke="#000" stroke-width="2.0"/>
<clipPath id="c28"><rect x="229.3" y="583.3" width="62.50" height="23.40"/></clipPath>
<rect x="229.3" y="583.3" width="62.50" height="23.40" fill="#e4e4e4"/>
<g clip-path="url(#c28)" filter="url(#bl2)">
<rect x="237.1" y="591.85" width="26.1" height="5.50" rx="2.75" fill="#080808" opacity="0.12" transform="rotate(2 250.1 594.6)"/>
<rect x="238.6" y="593.45" width="23.1" height="2.30" rx="1.15" fill="#080808" transform="rotate(2 250.1 594.6)"/>
<rect x="264.9" y="593.35" width="25.5" height="6.10" rx="3.05" fill="#080808" opacity="0.12" transform="rotate(2 277.6 596.4)"/>
<rect x="266.4" y="594.95" width="22.5" height="2.90" rx="1.45" fill="#080808" transform="rotate(2 277.6 596.4)"/>
</g>
<rect x="230.3" y="584.3" width="60.50" height="21.40" fill="none" stroke="#000" stroke-width="2.0"/>
<text transform="translate(299.4 548.7)" font-size="17.2" textLength="42.9" lengthAdjust="spacingAndGlyphs">Neto1</text>
<text transform="translate(299.4 575.4)" font-size="17.2" textLength="44.3" lengthAdjust="spacingAndGlyphs">Neto2</text>
<text transform="translate(299.4 599.4)" font-size="17.2" textLength="50.1" lengthAdjust="spacingAndGlyphs">β-actin</text>
<text transform="translate(483.2 450.6) scale(1.0 1)" font-size="15.95" text-anchor="middle">Neto1</text>
<text transform="translate(604.6 450.6) scale(1.0256 1)" font-size="16.19" text-anchor="middle">Neto2</text>
<rect x="445.6" y="572.7" width="19.4" height="51.5" fill="#ff0000"/>
<rect x="474.3" y="565.3" width="19.4" height="58.9" fill="#000080"/>
<rect x="503.0" y="570.6" width="19.4" height="53.6" fill="#f84143"/>
<rect x="531.7" y="563.1" width="19.4" height="61.1" fill="#56a1fb"/>
<rect x="560.4" y="570.5" width="19.4" height="53.7" fill="#ff0000"/>
<rect x="589.1" y="560.1" width="19.4" height="64.1" fill="#000080"/>
<rect x="617.8" y="570.5" width="19.4" height="53.7" fill="#f84143"/>
<rect x="646.5" y="586.7" width="19.4" height="37.5" fill="#56a1fb"/>
<path d="M455.3 566.8V578.5M450.7 566.8H459.9M450.7 578.5H459.9" stroke="#000" stroke-width="1.4" fill="none"/>
<g fill="#000">
<circle cx="455.4" cy="552.0" r="2.45"/>
<circle cx="455.4" cy="557.6" r="2.45"/>
<circle cx="455.4" cy="565.0" r="2.45"/>
<circle cx="455.4" cy="576.6" r="2.45"/>
<circle cx="450.8" cy="582.2" r="2.45"/>
<circle cx="460.1" cy="585.3" r="2.45"/>
<circle cx="450.8" cy="589.6" r="2.45"/>
</g>
<path d="M484.0 552V578.8M479.4 552H488.6M479.4 578.8H488.6" stroke="#000" stroke-width="1.4" fill="none"/>
<g fill="#000">
<rect x="481.6" y="505.1" width="5.0" height="5.0"/>
<rect x="481.6" y="542.7" width="5.0" height="5.0"/>
<rect x="481.6" y="548.9" width="5.0" height="5.0"/>
<rect x="481.6" y="557.3" width="5.0" height="5.0"/>
<rect x="481.6" y="587.1" width="5.0" height="5.0"/>
<rect x="481.6" y="597.1" width="5.0" height="5.0"/>
<rect x="481.6" y="603.0" width="5.0" height="5.0"/>
</g>
<path d="M512.7 565.9V574.8M508.1 565.9H517.3M508.1 574.8H517.3" stroke="#000" stroke-width="1.4" fill="none"/>
<g fill="#000">
<path d="M510.3 555.8L515.3 555.8L512.8 550.8Z"/>
<path d="M510.3 563.2L515.3 563.2L512.8 558.2Z"/>
<path d="M503.5 573.6L508.5 573.6L506.0 568.6Z"/>
<path d="M510.3 572.1L515.3 572.1L512.8 567.1Z"/>
<path d="M517.2 573.6L522.2 573.6L519.7 568.6Z"/>
<path d="M510.3 582.8L515.3 582.8L512.8 577.8Z"/>
<path d="M510.3 590.6L515.3 590.6L512.8 585.6Z"/>
</g>
<path d="M541.4 556.1V570M536.8 556.1H546.0M536.8 570H546.0" stroke="#000" stroke-width="1.4" fill="none"/>
<g fill="#000">
<path d="M538.3 532.7L544.7 532.7L541.5 539.1Z"/>
<path d="M531.8 548.8L538.2 548.8L535.0 555.2Z"/>
<path d="M544.8 550.7L551.2 550.7L548.0 557.1Z"/>
<path d="M531.8 563.1L538.2 563.1L535.0 569.5Z"/>
<path d="M544.8 560.8L551.2 560.8L548.0 567.2Z"/>
<path d="M544.8 568.2L551.2 568.2L548.0 574.6Z"/>
<path d="M538.3 591.4L544.7 591.4L541.5 597.8Z"/>
</g>
<path d="M570.1 560.1V580.9M565.5 560.1H574.7M565.5 580.9H574.7" stroke="#000" stroke-width="1.4" fill="none"/>
<g fill="#000">
<circle cx="570.1" cy="517.4" r="2.45"/>
<circle cx="562.7" cy="567.5" r="2.45"/>
<circle cx="570.1" cy="568.2" r="2.45"/>
<circle cx="577.7" cy="567.5" r="2.45"/>
<circle cx="570.1" cy="576.3" r="2.45"/>
<circle cx="570.1" cy="593.1" r="2.45"/>
<circle cx="570.1" cy="604.0" r="2.45"/>
</g>
<path d="M598.8 544.6V575.6M594.2 544.6H603.4M594.2 575.6H603.4" stroke="#000" stroke-width="1.4" fill="none"/>
<g fill="#000">
<rect x="596.2" y="487.6" width="5.0" height="5.0"/>
<rect x="596.2" y="512.6" width="5.0" height="5.0"/>
<rect x="591.4" y="566.2" width="5.0" height="5.0"/>
<rect x="601.1" y="570.8" width="5.0" height="5.0"/>
<rect x="596.2" y="579.1" width="5.0" height="5.0"/>
<rect x="596.2" y="591.1" width="5.0" height="5.0"/>
<rect x="596.2" y="597.6" width="5.0" height="5.0"/>
</g>
<path d="M627.5 565.4V575.6M622.9 565.4H632.1M622.9 575.6H632.1" stroke="#000" stroke-width="1.4" fill="none"/>
<g fill="#000">
<path d="M625.1 552.7L630.1 552.7L627.6 547.7Z"/>
<path d="M625.1 561.9L630.1 561.9L627.6 556.9Z"/>
<path d="M620.3 570.7L625.3 570.7L622.8 565.7Z"/>
<path d="M630.0 571.2L635.0 571.2L632.5 566.2Z"/>
<path d="M621.4 576.5L626.4 576.5L623.9 571.5Z"/>
<path d="M625.1 584.1L630.1 584.1L627.6 579.1Z"/>
<path d="M625.1 593.3L630.1 593.3L627.6 588.3Z"/>
</g>
<path d="M656.2 579V594.8M651.6 579H660.8M651.6 594.8H660.8" stroke="#000" stroke-width="1.4" fill="none"/>
<g fill="#000">
<path d="M649.1 560.6L654.1 560.6L651.6 565.6Z"/>
<path d="M658.8 561.5L663.8 561.5L661.3 566.5Z"/>
<path d="M653.8 571.5L658.8 571.5L656.3 576.5Z"/>
<path d="M653.8 580.0L658.8 580.0L656.3 585.0Z"/>
<path d="M653.8 593.9L658.8 593.9L656.3 598.9Z"/>
<path d="M653.8 603.8L658.8 603.8L656.3 608.8Z"/>
<path d="M653.8 613.0L658.8 613.0L656.3 618.0Z"/>
</g>
<line x1="436.2" y1="461.6" x2="436.2" y2="625.1" stroke="#242424" stroke-width="1.9"/>
<line x1="430.1" y1="624.2" x2="676" y2="624.2" stroke="#242424" stroke-width="1.9"/>
<line x1="430.1" y1="624.2" x2="436.2" y2="624.2" stroke="#242424" stroke-width="1.4"/>
<text transform="translate(422.2 628.0) scale(0.9709 1)" font-size="16.43" text-anchor="end">0</text>
<line x1="430.1" y1="570.3000000000001" x2="436.2" y2="570.3000000000001" stroke="#242424" stroke-width="1.4"/>
<text transform="translate(427.6 576.3) scale(0.9709 1)" font-size="16.43" text-anchor="end">100</text>
<line x1="430.1" y1="516.4000000000001" x2="436.2" y2="516.4000000000001" stroke="#242424" stroke-width="1.4"/>
<text transform="translate(427.6 523.2) scale(0.9709 1)" font-size="16.43" text-anchor="end">200</text>
<line x1="430.1" y1="462.5" x2="436.2" y2="462.5" stroke="#242424" stroke-width="1.4"/>
<text transform="translate(427.6 469.3) scale(0.9709 1)" font-size="16.43" text-anchor="end">300</text>
<line x1="455.3" y1="624.2" x2="455.3" y2="630.6" stroke="#242424" stroke-width="1.7"/>
<line x1="484.0" y1="624.2" x2="484.0" y2="630.6" stroke="#242424" stroke-width="1.7"/>
<line x1="512.7" y1="624.2" x2="512.7" y2="630.6" stroke="#242424" stroke-width="1.7"/>
<line x1="541.4" y1="624.2" x2="541.4" y2="630.6" stroke="#242424" stroke-width="1.7"/>
<line x1="570.1" y1="624.2" x2="570.1" y2="630.6" stroke="#242424" stroke-width="1.7"/>
<line x1="598.8" y1="624.2" x2="598.8" y2="630.6" stroke="#242424" stroke-width="1.7"/>
<line x1="627.5" y1="624.2" x2="627.5" y2="630.6" stroke="#242424" stroke-width="1.7"/>
<line x1="656.2" y1="624.2" x2="656.2" y2="630.6" stroke="#242424" stroke-width="1.7"/>
<line x1="555.9" y1="462.3" x2="555.9" y2="623.3" stroke="#000" stroke-width="1.6" stroke-dasharray="3.7 4.34"/>
<text transform="translate(388.9 634) rotate(-90)" font-size="16.83" textLength="157" lengthAdjust="spacingAndGlyphs">Normalised to β-actin</text>
<text transform="translate(461.3 635.8) rotate(-90) scale(0.9217 1)" font-size="18.23" text-anchor="end">WT - Total</text>
<text transform="translate(488.9 635.8) rotate(-90) scale(0.9217 1)" font-size="18.23" text-anchor="end">GluK2(Q) - Total</text>
<text transform="translate(517.4000000000001 635.8) rotate(-90) scale(0.9217 1)" font-size="18.23" text-anchor="end">WT - Syn</text>
<text transform="translate(547.4 635.8) rotate(-90) scale(0.9217 1)" font-size="18.23" text-anchor="end">GluK2(Q) - Syn</text>
<text transform="translate(576.1 635.8) rotate(-90) scale(0.9217 1)" font-size="18.23" text-anchor="end">WT - Total</text>
<text transform="translate(604.8 635.8) rotate(-90) scale(0.9217 1)" font-size="18.23" text-anchor="end">GluK2(Q) - Total</text>
<text transform="translate(633.5 635.8) rotate(-90) scale(0.9217 1)" font-size="18.23" text-anchor="end">WT - Syn</text>
<text transform="translate(662.2 635.8) rotate(-90) scale(0.9217 1)" font-size="18.23" text-anchor="end">GluK2(Q) - Syn</text>
</svg></body></html>
